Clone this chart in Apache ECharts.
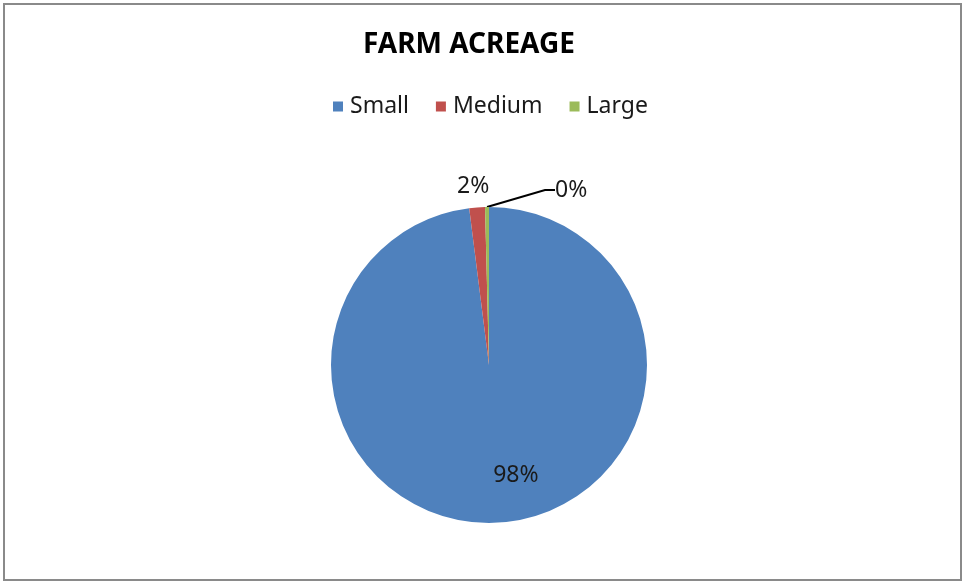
<!DOCTYPE html>
<html>
<head>
<meta charset="utf-8">
<style>
  html, body { margin: 0; padding: 0; background: #fff; }
  #chart { width: 964px; height: 583px; }
</style>
<script src="https://cdn.jsdelivr.net/npm/echarts@6/dist/echarts.min.js"></script>
</head>
<body>
<div id="chart"></div>
<script>
// Farm acreage shares by size class
const categories = ['Small', 'Medium', 'Large'];
const values = [98.0, 1.6, 0.4];
const colors = ['#4F81BD', '#C0504D', '#9BBB59'];

const FONT = '"Noto Sans", "Open Sans", sans-serif';

const chart = echarts.init(document.getElementById('chart'), null, { renderer: 'canvas' });

const pieData = categories.map((name, i) => ({
  name: name,
  value: values[i],
  itemStyle: { color: colors[i] },
  label: i === 0 ? { position: 'inside' } : { position: 'outside' },
  labelLine: { show: i === 2 }
}));

chart.setOption({
  animation: false,
  backgroundColor: '#fff',
  title: {
    text: 'FARM ACREAGE',
    left: 358,
    top: 26,
    textStyle: { fontFamily: FONT, fontSize: 28, fontWeight: 'bold', color: '#000' }
  },
  legend: {
    data: categories,
    left: 328,
    top: 90,
    icon: 'rect',
    itemWidth: 10,
    itemHeight: 10,
    itemGap: 27,
    textStyle: { fontFamily: FONT, fontSize: 23, color: '#1a1a1a', padding: [0, 0, 0, 2] }
  },
  graphic: [{
    type: 'rect',
    shape: { x: 4, y: 4, width: 957, height: 576 },
    style: { fill: 'none', stroke: '#8a8a8a', lineWidth: 2 },
    silent: true
  }],
  series: [{
    type: 'pie',
    center: [489, 365],
    radius: 158,
    startAngle: 90,
    clockwise: true,
    percentPrecision: 0,
    data: pieData,
    label: {
      formatter: '{d}%',
      fontFamily: FONT,
      fontSize: 23,
      color: '#1a1a1a'
    },
    labelLine: {
      length: 10,
      length2: 10,
      lineStyle: { color: '#000', width: 2 }
    },
    labelLayout: function (p) {
      const r = p.rect;
      if (p.dataIndex === 0) {
        return { x: r.x + r.width * 0.585, y: r.y + r.height * 0.85, align: 'center', verticalAlign: 'middle' };
      }
      if (p.dataIndex === 1) {
        return { x: r.x + 4, y: r.y - 21, align: 'center', verticalAlign: 'middle' };
      }
      return { x: r.x + r.width + 66, y: r.y - 17, align: 'left', verticalAlign: 'middle' };
    }
  }]
});
</script>
</body>
</html>
